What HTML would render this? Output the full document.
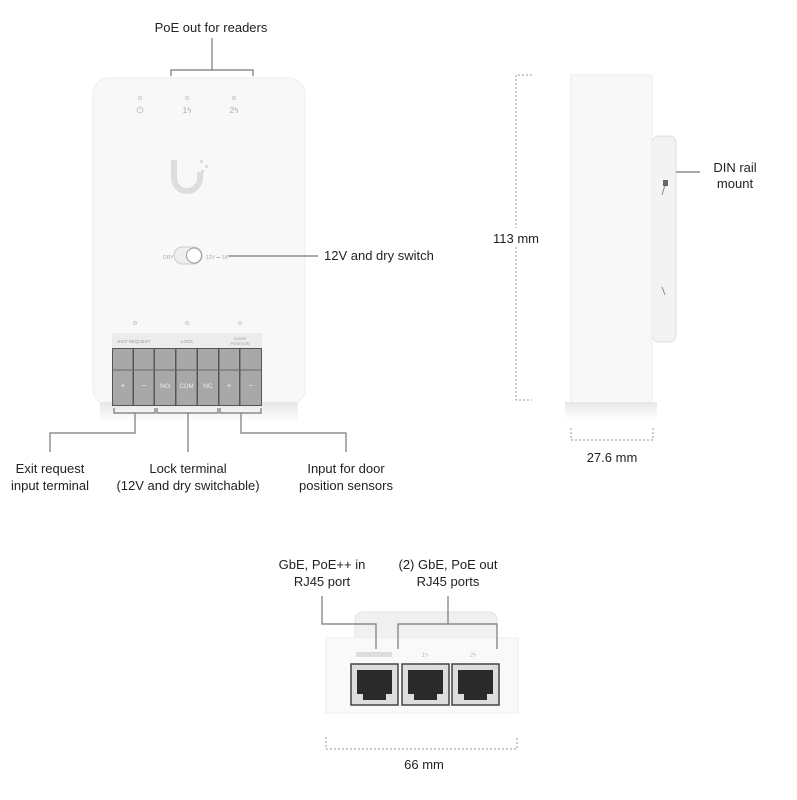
<!DOCTYPE html>
<html><head><meta charset="utf-8"><style>
body{margin:0;background:#fff;}
svg{display:block;font-family:"Liberation Sans",sans-serif;}
.t{font-size:13px;fill:#222;}
.l{stroke:#777;stroke-width:1.2;fill:none;}
.d{stroke:#999;stroke-width:1;fill:none;stroke-dasharray:2,2;}
</style></head><body>
<svg width="797" height="800" viewBox="0 0 797 800">
<defs>
<linearGradient id="sh" x1="0" y1="0" x2="0" y2="1"><stop offset="0" stop-color="#e6e6e6"/><stop offset="1" stop-color="#fff"/></linearGradient>
</defs>
<!-- front device -->
<text class="t" x="211" y="32" text-anchor="middle">PoE out for readers</text>
<path class="l" d="M212 38V70M171 76V70H253V76"/>
<rect x="93" y="78" width="212" height="327" rx="16" fill="#f8f8f8" stroke="#eee"/>
<rect x="100" y="402" width="198" height="20" fill="url(#sh)"/>
<circle cx="140" cy="98" r="1.5" fill="none" stroke="#ccc"/>
<circle cx="187" cy="98" r="1.5" fill="none" stroke="#ccc"/>
<circle cx="234" cy="98" r="1.5" fill="none" stroke="#ccc"/>
<text x="140" y="113" font-size="9" fill="#aaa" text-anchor="middle">⏻</text>
<text x="187" y="113" font-size="8" fill="#aaa" text-anchor="middle">1ϟ</text>
<text x="234" y="113" font-size="8" fill="#aaa" text-anchor="middle">2ϟ</text>
<path d="M174 160v18a13 13 0 0 0 26 0v-6" stroke="#ddd" stroke-width="6" fill="none"/>
<rect x="200" y="160" width="3" height="3" fill="#ddd"/><rect x="205" y="165" width="3" height="3" fill="#ddd"/><rect x="201" y="170" width="3" height="3" fill="#ddd"/>
<text x="163" y="259" font-size="5" fill="#aaa">DRY</text>
<rect x="174" y="247" width="28" height="17" rx="8.5" fill="#eee" stroke="#ccc"/>
<circle cx="194" cy="255.5" r="7.5" fill="#fff" stroke="#999"/>
<text x="206" y="259" font-size="5" fill="#aaa">12V ⎓ 1A</text>
<path class="l" d="M228 256H318"/>
<text class="t" x="324" y="260">12V and dry switch</text>
<circle cx="135" cy="323" r="1.5" fill="none" stroke="#ccc"/><circle cx="187" cy="323" r="1.5" fill="none" stroke="#ccc"/><circle cx="240" cy="323" r="1.5" fill="none" stroke="#ccc"/>
<rect x="112" y="333" width="150" height="15" fill="#ececec"/>
<text x="134" y="343" font-size="4.5" fill="#999" text-anchor="middle">EXIT REQUEST</text>
<text x="187" y="343" font-size="4.5" fill="#999" text-anchor="middle">LOCK</text>
<text x="240" y="340" font-size="4" fill="#999" text-anchor="middle">DOOR</text>
<text x="240" y="345" font-size="4" fill="#999" text-anchor="middle">POSITION</text>
<rect x="112" y="348" width="150" height="58" fill="#555"/>
<g fill="#a8a8a8">
<rect x="113" y="349" width="19.5" height="56"/><rect x="134" y="349" width="19.5" height="56"/><rect x="155" y="349" width="20" height="56"/><rect x="176.5" y="349" width="20" height="56"/><rect x="198" y="349" width="20" height="56"/><rect x="219.5" y="349" width="19.5" height="56"/><rect x="240.5" y="349" width="20.5" height="56"/>
</g>
<g stroke="#666" fill="none"><path d="M113 370H261"/></g>
<g font-size="8" fill="#eee" text-anchor="middle"><text x="123" y="388">+</text><text x="144" y="388">−</text><text x="165" y="388" font-size="6.5">NO</text><text x="186.5" y="388" font-size="6">COM</text><text x="208" y="388" font-size="6.5">NC</text><text x="229" y="388">+</text><text x="251" y="388">−</text></g>
<path class="l" d="M114 408V413H155V408M135 413V433H50V452M157 408V413H218V408M188 413V452M220 408V413H261V408M241 413V433H346V452"/>
<g class="t" text-anchor="middle">
<text x="50" y="473">Exit request</text><text x="50" y="490">input terminal</text>
<text x="188" y="473">Lock terminal</text><text x="188" y="490">(12V and dry switchable)</text>
<text x="346" y="473">Input for door</text><text x="346" y="490">position sensors</text>
</g>
<!-- side view -->
<path class="d" d="M532 75H516V400H532"/>
<rect x="496" y="228" width="40" height="18" fill="#fff"/>
<text class="t" x="516" y="243" text-anchor="middle">113 mm</text>
<rect x="652" y="136" width="24" height="206" rx="7" fill="#f3f3f3" stroke="#ddd"/>
<rect x="571" y="75" width="81" height="330" fill="#f8f8f8" stroke="#eee"/>
<rect x="565" y="402" width="92" height="18" fill="url(#sh)"/>
<path d="M665 185l-3 10M665 295l-3 -8" stroke="#888"/>
<rect x="663" y="180" width="5" height="6" fill="#666"/>
<path class="l" d="M676 172H700"/>
<text class="t" x="735" y="172" text-anchor="middle">DIN rail</text><text class="t" x="735" y="188" text-anchor="middle">mount</text>
<path class="d" d="M571 428V440H653V428"/>
<text class="t" x="612" y="462" text-anchor="middle">27.6 mm</text>
<!-- bottom view -->
<g class="t" text-anchor="middle">
<text x="322" y="569">GbE, PoE++ in</text><text x="322" y="586">RJ45 port</text>
<text x="448" y="569">(2) GbE, PoE out</text><text x="448" y="586">RJ45 ports</text>
</g>
<rect x="355" y="612" width="142" height="34" rx="8" fill="#f0f0f0" stroke="#e4e4e4"/>
<rect x="326" y="638" width="192" height="75" fill="#f9f9f9" stroke="#eee"/>
<rect x="356" y="652" width="36" height="5" fill="#ddd"/>
<text x="425" y="657" font-size="6" fill="#bbb" text-anchor="middle">1ϟ</text><text x="473" y="657" font-size="6" fill="#bbb" text-anchor="middle">2ϟ</text>
<g fill="#ddd" stroke="#444" stroke-width="1.5">
<rect x="351" y="664" width="47" height="41"/><rect x="402" y="664" width="47" height="41"/><rect x="452" y="664" width="47" height="41"/>
</g>
<g fill="#2a2a2a">
<path d="M357 670h35v24h-6v6h-23v-6h-6z"/><path d="M408 670h35v24h-6v6h-23v-6h-6z"/><path d="M458 670h35v24h-6v6h-23v-6h-6z"/>
</g>
<path class="l" d="M322 596V624H376V649M448 596V624M398 649V624H497V649"/>
<path class="d" d="M326 737V749H517V737"/>
<text class="t" x="424" y="769" text-anchor="middle">66 mm</text>
</svg>
</body></html>
